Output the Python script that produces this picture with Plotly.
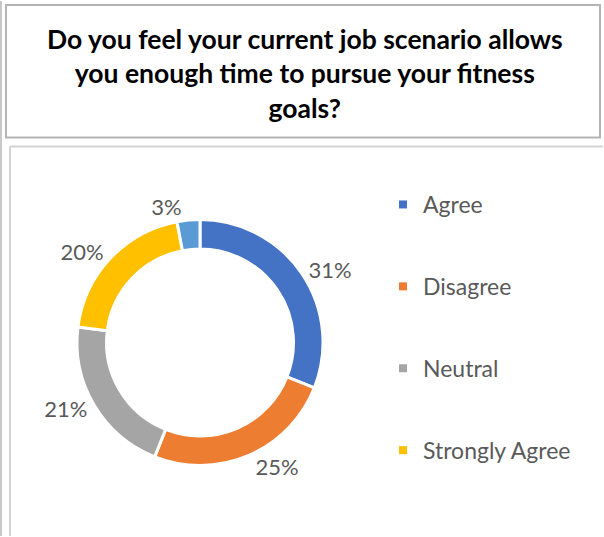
import plotly.graph_objects as go

# ---- data ----
categories = ["Agree", "Disagree", "Neutral", "Strongly Agree", "Strongly Disagree"]
values = [31, 25, 21, 20, 3]
colors = ["#4472C4", "#ED7D31", "#A5A5A5", "#FFC000", "#5B9BD5"]
legend_items = ["Agree", "Disagree", "Neutral", "Strongly Agree"]
title_lines = ["Do you feel your current job scenario allows",
               "you enough time to pursue your fitness",
               "goals?"]

W, H = 604, 537
def px(x): return x / W
def py(y): return 1 - y / H

fig = go.Figure()

fig.add_trace(go.Pie(
    labels=categories, values=values, sort=False, direction="clockwise",
    rotation=0, hole=0.76,
    marker=dict(colors=colors, line=dict(color="white", width=3)),
    textinfo="percent", textposition="outside",
    textfont=dict(family="Lato", size=22, color="#595959"),
    showlegend=False,
    domain=dict(x=[px(77), px(323)], y=[py(466), py(219)]),
))

for i, name in enumerate(legend_items):
    fig.add_trace(go.Scatter(
        x=[None], y=[None], mode="markers", name=name,
        legendgroup=name,
        marker=dict(symbol="square", size=8, color=colors[i]),
    ))

fig.add_annotation(
    text="<br>".join(title_lines), x=px(305), y=py(73), xref="paper", yref="paper",
    showarrow=False, xanchor="center", yanchor="middle",
    font=dict(family="Lato", size=26.5, color="black", weight="bold"),
)

shapes = [
    dict(type="line", x0=px(3), x1=px(3), y0=0, y1=1, line=dict(color="#C8C8C8", width=2)),
    dict(type="rect", x0=px(8), x1=px(601), y0=py(137), y1=py(4), line=dict(color="#B4B4B4", width=2)),
    dict(type="line", x0=px(12), x1=1, y0=py(146), y1=py(146), line=dict(color="#D4D4D4", width=2)),
    dict(type="line", x0=px(12), x1=px(12), y0=0, y1=py(146), line=dict(color="#D4D4D4", width=2)),
]

fig.update_layout(
    width=W, height=H, margin=dict(l=0, r=0, t=0, b=0),
    paper_bgcolor="white", plot_bgcolor="white",
    xaxis=dict(visible=False), yaxis=dict(visible=False),
    shapes=shapes,
    legend=dict(x=px(383), y=py(183), xanchor="left", yanchor="top",
                font=dict(family="Lato", size=23, color="#595959"),
                tracegroupgap=49, itemwidth=30, bgcolor="rgba(0,0,0,0)"),
)

fig.write_html("out.html", config={"displayModeBar": False},
               post_script="document.body.style.margin='0';")
